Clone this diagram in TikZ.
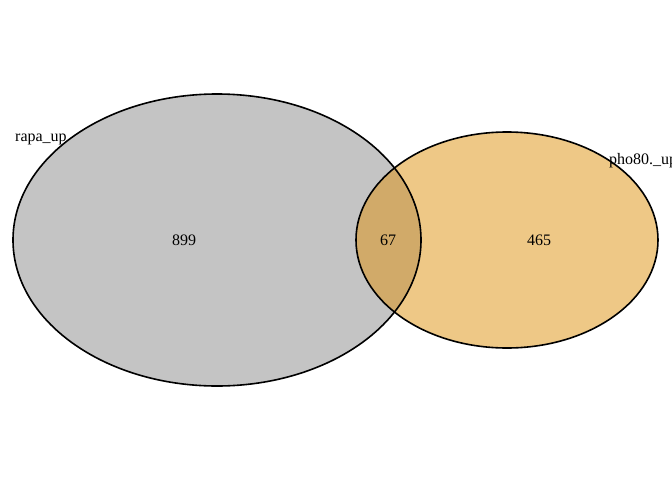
\documentclass[tikz,border=0pt]{standalone}
\usepackage{fontspec}
\setmainfont{Liberation Serif}
\usetikzlibrary{positioning}
\definecolor{rapagrey}{HTML}{C4C4C4}
\definecolor{phoorange}{HTML}{EEC886}
\definecolor{bothmix}{HTML}{D1AA69}

\begin{document}
\begin{tikzpicture}[x=1pt,y=-1pt,
  count/.style={font=\fontsize{16}{18}\selectfont},
  setname/.style={font=\fontsize{16}{18}\selectfont,anchor=base west,inner sep=0pt},
  rim/.style={line width=1.6pt}]
	\useasboundingbox (0,0) rectangle (672,480);
	\clip (0,0) rectangle (672,480);
	% set areas
	\fill[rapagrey] (217,240) ellipse [x radius=204,y radius=146];
	\fill[phoorange] (507,240) ellipse [x radius=151,y radius=108];
	\begin{scope}
	  \clip (217,240) ellipse [x radius=204,y radius=146];
	  \fill[bothmix] (507,240) ellipse [x radius=151,y radius=108];
	\end{scope}
	\draw[rim] (217,240) ellipse [x radius=204,y radius=146];
	\draw[rim] (507,240) ellipse [x radius=151,y radius=108];
	% counts
	\node[count] (rapa_only) at (184,240) {899};
	\node[count] (both) at (388,240) {67};
	\node[count] (pho_only) at (539,240) {465};
	% set names
	\node[setname] (rapa_up) at (15,141) {rapa\_up};
	\node[setname] (pho80_up) at (609,164) {pho80.\_up};
\end{tikzpicture}
\end{document}
